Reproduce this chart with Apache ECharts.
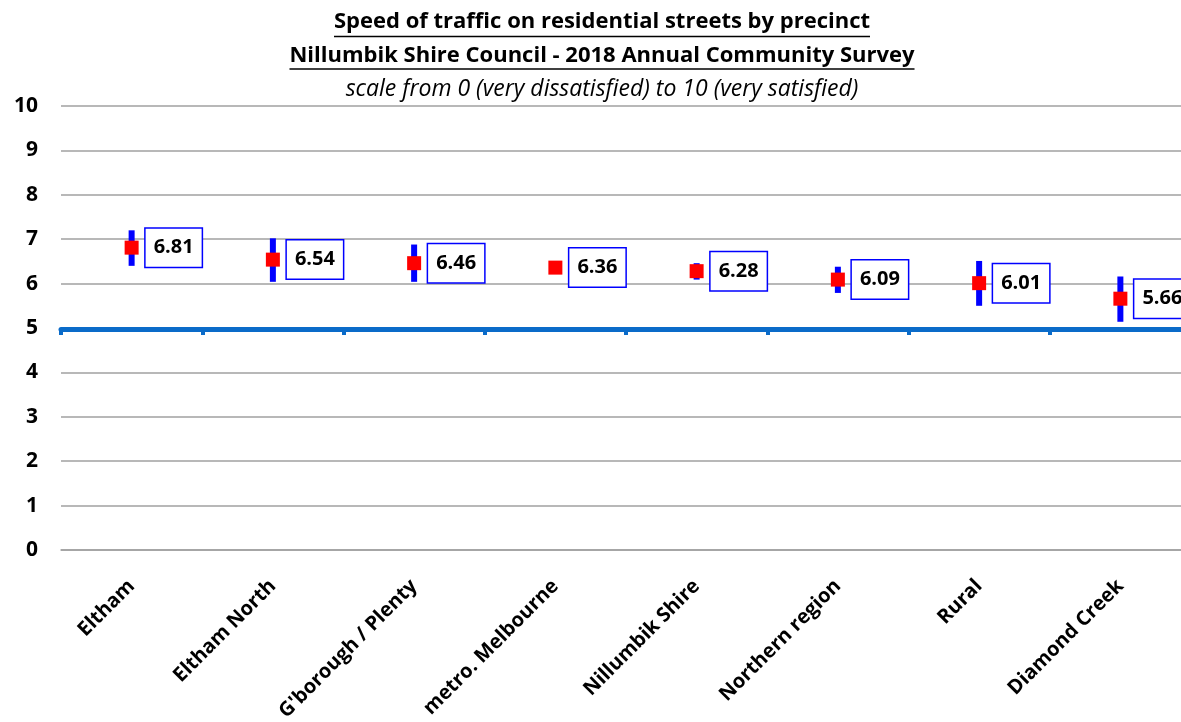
<!DOCTYPE html>
<html><head><meta charset="utf-8">
<script src="https://cdn.jsdelivr.net/npm/echarts@6/dist/echarts.min.js"></script>
<style>html,body{margin:0;padding:0;background:#fff}#c{width:1181px;height:722px}</style>
</head><body><div id="c"></div>
<script>
// ---- data ----
const categories = ['Eltham', 'Eltham North', "G'borough / Plenty", 'metro. Melbourne', 'Nillumbik Shire', 'Northern region', 'Rural', 'Diamond Creek'];
const means = [6.81, 6.54, 6.46, 6.36, 6.28, 6.09, 6.01, 5.66];
const lower = [6.40, 6.04, 6.04, 6.30, 6.09, 5.79, 5.50, 5.14];
const upper = [7.20, 7.02, 6.88, 6.42, 6.46, 6.38, 6.51, 6.16];
const benchmark = 5;
const yMin = 0, yMax = 10, yStep = 1;
const titleLines = [
  'Speed of traffic on residential streets by precinct',
  'Nillumbik Shire Council - 2018 Annual Community Survey',
  'scale from 0 (very dissatisfied) to 10 (very satisfied)'
];

const FAM = '"Open Sans", Lato, sans-serif';
const chart = echarts.init(document.getElementById('c'), null, {renderer: 'canvas'});

const ctx = document.createElement('canvas').getContext('2d');
function textW(t, font) { ctx.font = font; return ctx.measureText(t).width; }

const CX = 602;
const tFonts = ['bold 22px ' + FAM, 'bold 22px ' + FAM, 'italic 23px ' + FAM];
const tY = [22, 56, 89];
const graphics = [];
titleLines.forEach((t, i) => {
  graphics.push({type: 'text', x: CX, y: tY[i], style: {text: t, font: tFonts[i], fill: '#000', textAlign: 'center', textVerticalAlign: 'middle'}});
  if (i < 2) {
    const w = textW(t, tFonts[i]);
    const uy = i === 0 ? 36.5 : 69;
    graphics.push({type: 'line', shape: {x1: CX - w / 2, y1: uy, x2: CX + w / 2, y2: uy}, style: {stroke: '#000', lineWidth: 1.5}});
  }
});

const gridL = 61, gridR = -10, gridT = 106, gridB = 172;

chart.setOption({
  animation: false,
  backgroundColor: '#fff',
  graphic: graphics,
  grid: [
    {left: gridL, right: gridR, top: gridT, bottom: gridB, outerBoundsMode: 'none', containLabel: false},
    {left: gridL, right: gridR, top: gridT, bottom: 393, outerBoundsMode: 'none', containLabel: false}
  ],
  xAxis: [
    {gridIndex: 0, type: 'category', data: categories, boundaryGap: true,
     axisLine: {show: true, lineStyle: {color: '#a0a0a0', width: 1.5}}, axisTick: {show: false}, splitLine: {show: false},
     axisLabel: {show: true, interval: 0, rotate: 45, margin: 33, fontFamily: FAM, fontSize: 20, fontWeight: 'bold', color: '#000', hideOverlap: false}},
    {gridIndex: 1, type: 'category', data: categories, boundaryGap: true, z: 5,
     axisLine: {show: true, lineStyle: {color: '#0A6BC9', width: 5}},
     axisTick: {show: true, inside: false, length: 6, lineStyle: {color: '#0A6BC9', width: 4}},
     axisLabel: {show: false}, splitLine: {show: false}}
  ],
  yAxis: [
    {gridIndex: 0, type: 'value', min: yMin, max: yMax, interval: yStep,
     axisLine: {show: false}, axisTick: {show: false},
     axisLabel: {margin: 23, fontFamily: FAM, fontSize: 21, fontWeight: 'bold', color: '#000'},
     splitLine: {show: true, lineStyle: {color: '#a0a0a0', width: 1.5}}},
    {gridIndex: 1, type: 'value', min: benchmark, max: yMax, show: false, splitLine: {show: false}}
  ],
  series: [
    {type: 'custom', xAxisIndex: 0, yAxisIndex: 0, z: 3,
     data: categories.map((c, i) => [i, lower[i], upper[i]]),
     encode: {x: 0, y: [1, 2]},
     renderItem: (params, api) => {
       const x = api.value(0);
       const lo = api.coord([x, api.value(1)]);
       const hi = api.coord([x, api.value(2)]);
       return {type: 'line', shape: {x1: lo[0], y1: lo[1], x2: hi[0], y2: hi[1]}, style: {stroke: '#0000FF', lineWidth: 6, opacity: 1}};
     }},
    {type: 'scatter', xAxisIndex: 0, yAxisIndex: 0, z: 4,
     data: means, symbol: 'rect', symbolSize: 14,
     itemStyle: {color: '#FF0000', opacity: 1},
     emphasis: {disabled: true},
     label: {show: true, position: 'right', distance: 7,
       formatter: p => Number(p.value).toFixed(2),
       fontFamily: FAM, fontSize: 20, fontWeight: 'bold', color: '#000', lineHeight: 22, opacity: 1,
       backgroundColor: '#fff', borderColor: '#0000FF', borderWidth: 1.5, padding: [8, 8, 8, 8]}}
  ]
});
</script></body></html>
